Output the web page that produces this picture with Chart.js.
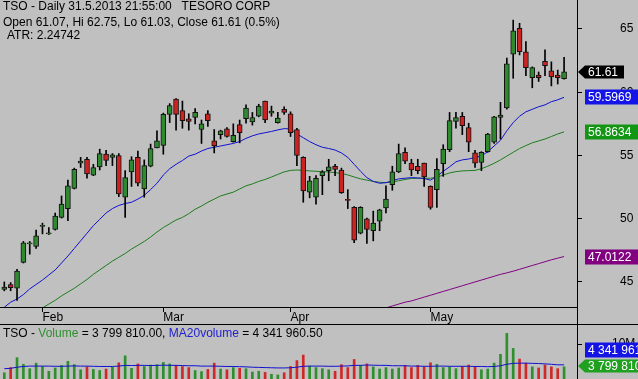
<!DOCTYPE html>
<html><head><meta charset="utf-8">
<script src="https://cdn.jsdelivr.net/npm/chart.js@4.4.1/dist/chart.umd.min.js"></script>
<style>
html,body{margin:0;padding:0;background:#c0c0c0;}
#wrap{position:relative;width:638px;height:379px;overflow:hidden;background:#c0c0c0;font-family:"Liberation Sans",Arial,sans-serif;}
canvas{position:absolute;left:0;}
#c1{top:0;}
#c2{top:325px;}
.t{position:absolute;font-size:12px;line-height:14px;color:#000;white-space:pre;}
.ln{position:absolute;background:#000;}
</style></head><body>
<div id="wrap">
<canvas id="c1" width="638" height="324"></canvas>
<canvas id="c2" width="638" height="54"></canvas>
<div class="ln" style="left:0;top:324px;width:638px;height:1px"></div>
<div class="ln" style="left:577px;top:0;width:1px;height:379px"></div>
<div class="t" style="left:3px;top:-1px">TSO - Daily 31.5.2013 21:55:00   TESORO CORP</div>
<div class="t" style="left:3px;top:15px">Open 61.07, Hi 62.75, Lo 61.03, Close 61.61 (0.5%)</div>
<div class="t" style="left:7px;top:28px">ATR: 2.24742</div>
<div class="t" style="left:3px;top:326px">TSO - <span style="color:#2f8f2f">Volume</span> = 3 799 810.00, <span style="color:#2020d0">MA20volume</span> = 4 341 960.50</div>
</div>
<script>
const dates = ["01-24","01-25","01-28","01-29","01-30","01-31",
"02-01","02-04","02-05","02-06","02-07","02-08","02-11","02-12","02-13","02-14","02-15","02-19","02-20","02-21","02-22","02-25","02-26","02-27","02-28",
"03-01","03-04","03-05","03-06","03-07","03-08","03-11","03-12","03-13","03-14","03-15","03-18","03-19","03-20","03-21","03-22","03-25","03-26","03-27","03-28",
"04-01","04-02","04-03","04-04","04-05","04-08","04-09","04-10","04-11","04-12","04-15","04-16","04-17","04-18","04-19","04-22","04-23","04-24","04-25","04-26","04-29","04-30",
"05-01","05-02","05-03","05-06","05-07","05-08","05-09","05-10","05-13","05-14","05-15","05-16","05-17","05-20","05-21","05-22","05-23","05-24","05-28","05-29","05-30","05-31"];
const monthNames = {"02":"Feb","03":"Mar","04":"Apr","05":"May"};
const open  = [44.4,44.8,44.5,46.55,48.0,47.8,49.4,48.8,49.15,50.1,50.8,52.4,54.4,54.7,53.45,54.1,55.1,54.85,55.0,51.7,53.7,54.85,52.35,54.15,55.6,55.8,58.25,59.45,58.55,57.9,58.0,57.05,58.3,56.15,56.65,57.1,56.1,57.45,57.9,57.65,58.1,59.3,58.35,57.6,58.65,58.3,57.05,54.85,52.1,51.7,53.4,53.8,54.15,53.85,51.5,50.9,48.85,50.0,49.05,49.8,50.85,52.7,53.7,55.25,54.4,54.15,54.4,52.55,52.3,54.35,55.45,57.7,58.1,57.2,55.2,54.45,55.3,56.05,58.0,58.75,63.0,65.05,63.2,61.15,61.35,62.45,61.7,61.35,61.07];
const high  = [45.0,44.95,46.0,48.2,48.2,49.1,49.65,49.3,50.45,51.8,53.05,54.0,54.85,54.85,54.3,55.5,55.4,55.15,55.15,53.8,54.9,55.35,54.65,55.9,56.95,58.35,59.1,59.5,59.3,58.3,58.7,57.8,58.55,57.05,57.0,57.2,57.5,57.8,59.0,58.4,59.05,59.3,58.9,58.4,58.85,58.45,57.15,54.9,53.35,53.4,53.8,54.7,54.3,54.0,52.3,50.95,50.95,50.05,50.6,50.75,52.6,54.15,55.9,55.6,54.7,54.7,54.4,52.6,54.75,55.85,58.4,58.4,58.4,57.55,55.4,55.3,56.75,58.1,59.2,62.7,65.7,65.45,64.0,62.0,61.6,63.35,62.4,61.75,62.75];
const low   = [44.3,44.3,43.55,46.5,47.2,47.65,48.8,48.75,49.1,50.05,49.85,52.35,54.05,53.2,53.4,53.85,54.2,54.2,51.75,50.1,52.55,52.6,51.7,54.1,55.6,55.1,57.6,57.0,57.15,57.0,57.5,55.95,57.3,55.2,56.3,56.45,56.05,56.0,57.55,57.4,58.05,57.6,58.1,57.55,58.25,56.5,54.2,51.3,51.65,51.15,51.9,53.0,53.4,52.0,50.8,48.1,48.8,48.05,48.25,49.05,50.45,52.25,53.65,54.35,53.4,53.55,52.55,50.75,50.9,53.35,55.3,57.15,56.65,55.3,54.05,53.8,55.25,55.95,56.3,58.65,61.1,62.95,61.3,60.35,60.85,61.3,60.5,60.65,61.03];
const close = [44.6,44.55,45.85,48.1,48.1,48.65,49.45,48.85,50.2,51.15,52.6,53.9,54.55,53.55,54.05,55.15,54.6,55.05,51.95,53.25,54.65,52.8,54.2,55.55,56.15,58.25,58.95,58.25,57.75,57.7,58.4,57.5,57.75,55.75,56.95,56.5,56.6,56.8,58.75,58.0,58.9,57.8,58.5,57.95,58.4,56.8,55.0,52.2,53.0,53.2,53.7,54.1,53.9,52.05,51.45,48.3,50.9,49.15,49.65,50.7,51.55,53.7,55.15,54.55,53.85,53.8,53.3,50.9,53.9,55.5,57.75,58.0,57.35,56.05,54.4,55.25,56.7,58.05,58.2,62.25,64.85,63.2,61.95,61.95,61.15,62.1,61.2,61.15,61.61];
const ma20 = [43.0,43.4,43.65,44.0,44.45,44.8,45.15,45.55,45.95,46.5,47.05,47.65,48.25,48.85,49.45,49.95,50.45,50.8,51.05,51.2,51.3,51.55,51.85,52.3,52.8,53.45,53.95,54.3,54.6,54.95,55.1,55.35,55.55,55.65,55.75,55.85,55.95,56.1,56.35,56.55,56.7,56.8,56.9,57.02,57.12,57.1,56.7,56.4,56.1,55.85,55.65,55.55,55.43,55.2,54.85,54.3,53.75,53.25,52.95,52.8,52.85,53.0,53.15,53.2,53.25,53.22,53.18,53.05,53.35,53.75,54.1,54.5,54.65,54.72,54.85,54.95,55.3,55.75,56.2,56.95,57.6,58.1,58.45,58.65,58.85,59.0,59.25,59.4,59.5969];
const ma50 = [null,null,null,null,null,42.7,42.95,43.25,43.55,43.9,44.2,44.5,44.85,45.2,45.6,45.95,46.3,46.65,46.95,47.25,47.6,47.9,48.2,48.55,48.95,49.3,49.6,49.9,50.1,50.4,50.75,51.0,51.3,51.55,51.8,51.95,52.1,52.35,52.6,52.75,52.95,53.1,53.3,53.5,53.7,53.82,53.85,53.82,53.78,53.75,53.72,53.7,53.64,53.58,53.46,53.3,53.15,53.05,52.95,52.88,52.85,52.9,53.0,53.1,53.18,53.2,53.2,53.2,53.28,53.45,53.62,53.72,53.78,53.8,53.82,53.95,54.15,54.38,54.65,54.95,55.25,55.55,55.78,56.0,56.15,56.3,56.5,56.7,56.8634];
const ma200 = [null,null,null,null,null,null,null,null,null,null,null,null,null,null,null,null,null,null,null,null,null,null,null,null,null,null,null,null,null,null,null,null,null,null,null,null,null,null,null,null,null,null,null,null,null,null,null,null,null,null,null,null,null,null,null,null,null,null,null,null,42.95,43.1,43.25,43.4,43.5,43.65,43.8,43.95,44.1,44.25,44.4,44.55,44.7,44.85,45.0,45.15,45.3,45.45,45.6,45.72,45.85,46.0,46.15,46.3,46.45,46.6,46.75,46.88,47.0122];
const volumeM = [2.2,3.6,6.3,4.5,3.3,4.8,3.9,2.6,3.5,4.2,5.3,4.4,3.0,3.8,3.1,2.8,3.2,3.8,4.9,6.8,3.4,4.6,3.9,4.3,4.4,5.0,4.6,4.2,3.9,3.6,2.8,2.5,3.1,4.8,3.2,3.0,3.6,3.4,3.3,2.4,2.6,2.3,1.8,1.6,2.2,3.9,5.5,7.0,4.0,3.6,3.3,3.0,2.6,4.4,3.6,5.8,4.2,4.6,3.8,3.2,3.6,3.2,3.5,4.2,3.6,4.2,3.8,4.9,4.5,3.6,3.8,3.3,3.9,4.3,3.7,3.0,3.2,4.8,7.2,12.9,8.8,5.9,4.8,3.8,3.5,4.3,3.8,3.3,3.79981];
const ma20VolM = [3.3,3.4,3.7,3.9,4.0,4.0,4.0,4.0,3.95,3.95,4.0,4.05,4.0,4.0,3.95,3.9,3.9,3.9,4.0,4.2,4.15,4.2,4.2,4.15,4.2,4.25,4.2,4.2,4.15,4.1,4.1,4.0,4.0,4.0,3.95,3.9,3.9,3.85,3.8,3.7,3.65,3.6,3.55,3.5,3.5,3.55,3.7,3.95,4.0,4.0,4.0,3.95,3.95,4.0,4.05,4.2,4.2,4.3,4.25,4.2,4.2,4.1,4.1,4.1,4.0,4.0,3.95,3.95,4.0,4.0,3.95,3.95,3.95,3.95,3.9,3.9,3.85,3.9,4.1,4.5,4.75,4.8,4.8,4.75,4.7,4.6,4.5,4.35,4.34196];
const priceTicks = [45,50,55,60,65];
const lastTags = [
  {v:61.61, text:"61.61", bg:"#000000", arrow:true},
  {v:59.5969, text:"59.5969", bg:"#1414e6", arrow:false},
  {v:56.8634, text:"56.8634", bg:"#139613", arrow:false},
  {v:47.0122, text:"47.0122", bg:"#800080", arrow:false}
];

const FONT = '"Liberation Sans", Arial, sans-serif';
const GREEN = '#2f8a2f', RED = '#cc2222';
const idx = dates.map((d,i)=>i);
const monthTicks = [], monthLabel = {};
dates.forEach((d,i)=>{ if(i>0 && d.slice(0,2)!==dates[i-1].slice(0,2)){ monthTicks.push(i); monthLabel[i]=monthNames[d.slice(0,2)]; } });
const up = idx.map(i=>close[i]>=open[i]);
const noPad = (s)=>{ s.paddingTop=0; s.paddingBottom=0; s.paddingLeft=0; s.paddingRight=0; };

function tagPlugin(tags){
  return {id:'tags', afterDraw(chart){
    const ctx = chart.ctx, ys = chart.scales.y;
    ctx.save();
    ctx.font = '12px ' + FONT;
    ctx.textBaseline = 'middle';
    tags.forEach(t=>{
      const yc = Math.round(t.y!==undefined ? t.y : ys.getPixelForValue(t.v));
      ctx.fillStyle = t.bg;
      if(t.arrow){
        ctx.beginPath();
        ctx.moveTo(578, yc);
        ctx.lineTo(585, yc-6.5);
        ctx.lineTo(t.right||624, yc-6.5);
        ctx.lineTo(t.right||624, yc+6.5);
        ctx.lineTo(585, yc+6.5);
        ctx.closePath();
        ctx.fill();
      } else {
        ctx.fillRect(585, yc-7.5, 60, 15);
      }
      ctx.fillStyle = '#fff';
      ctx.fillText(t.text, 588, yc+0.5);
    });
    ctx.restore();
  }};
}

new Chart(document.getElementById('c1'), {
  type:'bar',
  data:{datasets:[
    {type:'bar', data: idx.map(i=>({x:i, y:[open[i], close[i]]})), backgroundColor: idx.map(i=>up[i]?GREEN:RED),
     borderColor:'#111', borderWidth:1, borderSkipped:false, barThickness:5, grouped:false, minBarLength:1, order:0},
    {type:'bar', data: idx.map(i=>({x:i, y:[low[i], high[i]]})), backgroundColor:'#000', borderWidth:0, barThickness:1, grouped:false, order:1},
    {type:'line', data: idx.map(i=>({x:i, y:ma20[i]})), borderColor:'#1010d0', borderWidth:1, pointRadius:0, tension:0, order:2},
    {type:'line', data: idx.map(i=>({x:i, y:ma50[i]})), borderColor:'#1c7c1c', borderWidth:1, pointRadius:0, tension:0, order:3},
    {type:'line', data: idx.map(i=>({x:i, y:ma200[i]})), borderColor:'#800080', borderWidth:1, pointRadius:0, tension:0, order:4}
  ]},
  options:{
    responsive:false, animation:false, events:[],
    layout:{padding:0},
    plugins:{legend:{display:false}, tooltip:{enabled:false}},
    scales:{
      x:{type:'linear', min:-0.676, max:90.03, offset:false,
        grid:{drawOnChartArea:false, drawTicks:true, tickLength:5, color:'#000', offset:false},
        border:{display:true, color:'#000'},
        ticks:{align:'start', autoSkip:false, maxRotation:0, padding:-2, color:'#000', font:{size:12, family:FONT},
          callback:(v)=>monthLabel[v]||''},
        afterBuildTicks:(s)=>{ s.ticks = monthTicks.map(v=>({value:v})); },
        afterFit:(s)=>{ s.height = 17; noPad(s); }
      },
      y:{position:'right', min:43.02, max:67.29,
        grid:{drawOnChartArea:false, drawTicks:true, tickLength:5, color:'#000'},
        border:{display:true, color:'#000'},
        ticks:{crossAlign:'near', padding:38, color:'#000', font:{size:12, family:FONT}},
        afterBuildTicks:(s)=>{ s.ticks = priceTicks.map(v=>({value:v})); },
        afterFit:(s)=>{ s.width = 61; noPad(s); }
      }
    }
  },
  plugins:[tagPlugin(lastTags)]
});

const volTags = [
  {y:25, text:"4 341 961", bg:"#1414e6", arrow:false},
  {y:41, text:"3 799 810", bg:"#1fa01f", arrow:true, right:645}
];

new Chart(document.getElementById('c2'), {
  type:'bar',
  data:{datasets:[
    {type:'bar', data: idx.map(i=>({x:i, y:volumeM[i]*1e6})), backgroundColor: idx.map(i=>up[i]?'#2f8f2f':'#d02828'),
     borderWidth:0, barThickness:2, grouped:false, order:1},
    {type:'line', data: idx.map(i=>({x:i, y:ma20VolM[i]*1e6})), borderColor:'#1010d0', borderWidth:1, pointRadius:0, tension:0, order:0}
  ]},
  options:{
    responsive:false, animation:false, events:[],
    layout:{padding:0},
    plugins:{legend:{display:false}, tooltip:{enabled:false}},
    scales:{
      x:{type:'linear', min:-0.676, max:90.03, offset:false,
        grid:{display:false, offset:false}, border:{display:false},
        ticks:{display:false},
        afterBuildTicks:(s)=>{ s.ticks = monthTicks.map(v=>({value:v})); },
        afterFit:(s)=>{ s.height = 0; noPad(s); }
      },
      y:{position:'right', min:0.5e6, max:15.16e6,
        grid:{drawOnChartArea:false, drawTicks:true, tickLength:5, color:'#000'},
        border:{display:true, color:'#000'},
        ticks:{crossAlign:'near', padding:30, color:'#000', font:{size:12, family:FONT}, callback:(v)=>(v/1e6)+'M'},
        afterBuildTicks:(s)=>{ s.ticks = [{value:10e6}]; },
        afterFit:(s)=>{ s.width = 61; noPad(s); }
      }
    }
  },
  plugins:[tagPlugin(volTags)]
});
</script>
</body></html>
